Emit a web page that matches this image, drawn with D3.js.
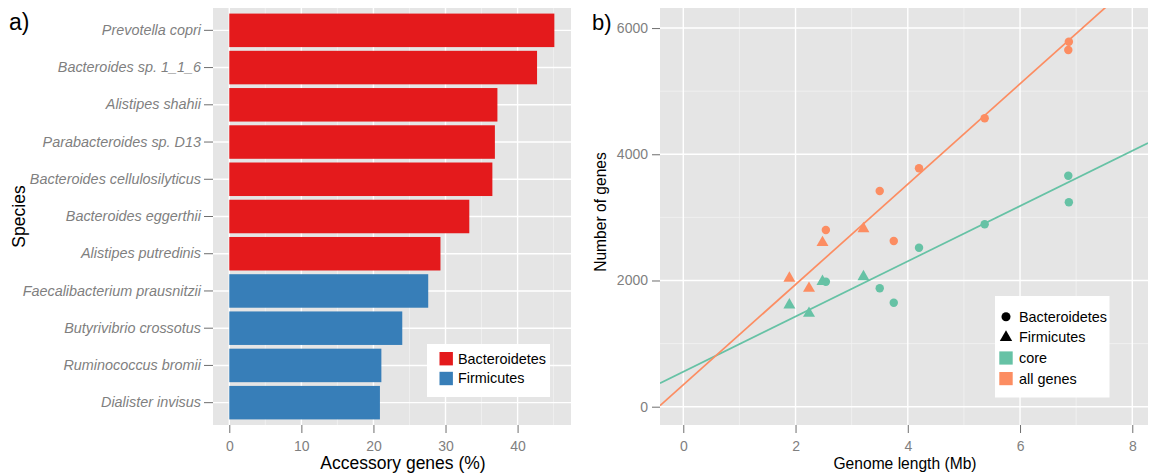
<!DOCTYPE html>
<html>
<head>
<meta charset="utf-8">
<script src="https://cdn.jsdelivr.net/npm/d3@7"></script>
<style>
  html, body { margin: 0; padding: 0; background: #fff; }
  svg { display: block; font-family: "Liberation Sans", Arial, sans-serif; }
</style>
</head>
<body>
<svg id="chart" width="1151" height="474"></svg>
<script>
// ---- Panel a: accessory genome share per species ----
const species = [
  "Prevotella copri", "Bacteroides sp. 1_1_6", "Alistipes shahii",
  "Parabacteroides sp. D13", "Bacteroides cellulosilyticus", "Bacteroides eggerthii",
  "Alistipes putredinis", "Faecalibacterium prausnitzii", "Butyrivibrio crossotus",
  "Ruminococcus bromii", "Dialister invisus"
];
const accessoryPct = [45.1, 42.7, 37.2, 36.85, 36.5, 33.3, 29.3, 27.6, 24.0, 21.1, 20.9];
const speciesPhylum = ["Bacteroidetes", "Bacteroidetes", "Bacteroidetes", "Bacteroidetes",
  "Bacteroidetes", "Bacteroidetes", "Bacteroidetes", "Firmicutes", "Firmicutes",
  "Firmicutes", "Firmicutes"];
const pctTicks = [0, 10, 20, 30, 40];
const pctMinor = [5, 15, 25, 35, 45];

// ---- Panel b: gene counts against genome length ----
const genomeMb  = [6.87, 6.86, 5.37, 4.20, 3.50, 3.75, 2.54, 1.89, 2.24, 2.48, 3.21];
const allGenes  = [5784, 5653, 4570, 3778, 3418, 2626, 2800, 2035, 1876, 2600, 2821];
const coreGenes = [3239, 3661, 2890, 2520, 1876, 1648, 1981, 1612, 1480, 1985, 2060];
const genomePhylum = ["Bacteroidetes", "Bacteroidetes", "Bacteroidetes", "Bacteroidetes",
  "Bacteroidetes", "Bacteroidetes", "Bacteroidetes", "Firmicutes", "Firmicutes",
  "Firmicutes", "Firmicutes"];
// fitted lines: [intercept, slope]
const allFit  = [346, 795];
const coreFit = [553, 438];
const mbTicks = [0, 2, 4, 6, 8];
const mbMinor = [1, 3, 5, 7];
const geneTicks = [0, 2000, 4000, 6000];
const geneMinor = [1000, 3000, 5000];

const phylumColor = { Bacteroidetes: "#E41A1C", Firmicutes: "#377EB8" };
const setColor = { core: "#66C2A5", "all genes": "#FC8D62" };

const svg = d3.select("#chart");
const tickText = "#7f7f7f";
const tickLine = "#6e6e6e";

function styleAxis(g, size) {
  g.select(".domain").remove();
  g.selectAll(".tick line").attr("stroke", tickLine).attr("stroke-width", 1);
  g.selectAll(".tick text").attr("fill", tickText).style("font-size", (size || 14) + "px");
}

// ================= Panel a =================
const A = { left: 213, right: 571, top: 8, bottom: 425 };
const xA = d3.scaleLinear().domain([-2.26, 47.41]).range([A.left, A.right]);
const yA = d3.scaleBand().domain(species).range([A.top, A.bottom])
  .paddingInner(0.1).paddingOuter(0.15);

const gA = svg.append("g");
gA.append("rect").attr("x", A.left).attr("y", A.top)
  .attr("width", A.right - A.left).attr("height", A.bottom - A.top).attr("fill", "#e5e5e5");
gA.selectAll(".minor").data(pctMinor).join("line")
  .attr("x1", d => xA(d)).attr("x2", d => xA(d)).attr("y1", A.top).attr("y2", A.bottom)
  .attr("stroke", "#f2f2f2").attr("stroke-width", 0.8);
gA.selectAll(".majorx").data(pctTicks).join("line")
  .attr("x1", d => xA(d)).attr("x2", d => xA(d)).attr("y1", A.top).attr("y2", A.bottom)
  .attr("stroke", "#fff").attr("stroke-width", 1.4);
gA.selectAll(".majory").data(species).join("line")
  .attr("x1", A.left).attr("x2", A.right)
  .attr("y1", d => yA(d) + yA.bandwidth() / 2).attr("y2", d => yA(d) + yA.bandwidth() / 2)
  .attr("stroke", "#fff").attr("stroke-width", 1.4);

gA.selectAll(".bar").data(species).join("rect")
  .attr("x", xA(0)).attr("y", d => yA(d))
  .attr("width", (d, i) => xA(accessoryPct[i]) - xA(0))
  .attr("height", yA.bandwidth())
  .attr("fill", (d, i) => phylumColor[speciesPhylum[i]]);

const axA_x = svg.append("g").attr("transform", `translate(0,${A.bottom})`)
  .call(d3.axisBottom(xA).tickValues(pctTicks).tickSize(8).tickPadding(8.5));
styleAxis(axA_x);
const axA_y = svg.append("g").attr("transform", `translate(${A.left},0)`)
  .call(d3.axisLeft(yA).tickSize(9).tickPadding(3));
styleAxis(axA_y, 14.4);
axA_y.selectAll(".tick text").style("font-style", "italic");

svg.append("text").attr("x", 403).attr("y", 469)
  .attr("text-anchor", "middle").style("font-size", "17.5px").attr("fill", "#000")
  .text("Accessory genes (%)");
svg.append("text").attr("transform", `translate(24.5,${(A.top + A.bottom) / 2}) rotate(-90)`)
  .attr("text-anchor", "middle").style("font-size", "17.5px").attr("fill", "#000")
  .text("Species");
svg.append("text").attr("x", 9).attr("y", 30).style("font-size", "23px").text("a)");

// legend a
const legA = svg.append("g");
legA.append("rect").attr("x", 427).attr("y", 344).attr("width", 123).attr("height", 53).attr("fill", "#fff");
["Bacteroidetes", "Firmicutes"].forEach((p, i) => {
  legA.append("rect").attr("x", 439.5).attr("y", 352 + i * 19.8)
    .attr("width", 13.4).attr("height", 13.4).attr("fill", phylumColor[p]);
  legA.append("text").attr("x", 458).attr("y", 363.6 + i * 19.8)
    .style("font-size", "14.4px").attr("fill", "#000").text(p);
});

// ================= Panel b =================
const B = { left: 660, right: 1148, top: 8, bottom: 425 };
const xB = d3.scaleLinear().domain([-0.415, 8.28]).range([B.left, B.right]);
const yB = d3.scaleLinear().domain([-290, 6318]).range([B.bottom, B.top]);

const gB = svg.append("g");
gB.append("rect").attr("x", B.left).attr("y", B.top)
  .attr("width", B.right - B.left).attr("height", B.bottom - B.top).attr("fill", "#e5e5e5");
svg.append("clipPath").attr("id", "clipB").append("rect")
  .attr("x", B.left).attr("y", B.top).attr("width", B.right - B.left).attr("height", B.bottom - B.top);

gB.selectAll(".mx").data(mbMinor).join("line")
  .attr("x1", d => xB(d)).attr("x2", d => xB(d)).attr("y1", B.top).attr("y2", B.bottom)
  .attr("stroke", "#f2f2f2").attr("stroke-width", 0.8);
gB.selectAll(".my").data(geneMinor).join("line")
  .attr("x1", B.left).attr("x2", B.right).attr("y1", d => yB(d)).attr("y2", d => yB(d))
  .attr("stroke", "#f2f2f2").attr("stroke-width", 0.8);
gB.selectAll(".Mx").data(mbTicks).join("line")
  .attr("x1", d => xB(d)).attr("x2", d => xB(d)).attr("y1", B.top).attr("y2", B.bottom)
  .attr("stroke", "#fff").attr("stroke-width", 1.4);
gB.selectAll(".My").data(geneTicks).join("line")
  .attr("x1", B.left).attr("x2", B.right).attr("y1", d => yB(d)).attr("y2", d => yB(d))
  .attr("stroke", "#fff").attr("stroke-width", 1.4);

// regression lines across the full range
const plot = gB.append("g").attr("clip-path", "url(#clipB)");
const [x0, x1] = xB.domain();
[[coreFit, setColor.core], [allFit, setColor["all genes"]]].forEach(([f, c]) => {
  plot.append("line")
    .attr("x1", xB(x0)).attr("y1", yB(f[0] + f[1] * x0))
    .attr("x2", xB(x1)).attr("y2", yB(f[0] + f[1] * x1))
    .attr("stroke", c).attr("stroke-width", 1.7);
});

const circleSym = d3.symbol().type(d3.symbolCircle).size(56);
const triSym = d3.symbol().type(d3.symbolTriangle).size(62);
const pts = [];
genomeMb.forEach((g, i) => {
  pts.push({ x: g, y: coreGenes[i], set: "core", phylum: genomePhylum[i] });
  pts.push({ x: g, y: allGenes[i], set: "all genes", phylum: genomePhylum[i] });
});
plot.selectAll(".pt").data(pts).join("path")
  .attr("transform", d => `translate(${xB(d.x)},${yB(d.y)})`)
  .attr("d", d => d.phylum === "Bacteroidetes" ? circleSym() : triSym())
  .attr("fill", d => setColor[d.set]);

const axB_x = svg.append("g").attr("transform", `translate(0,${B.bottom})`)
  .call(d3.axisBottom(xB).tickValues(mbTicks).tickSize(8).tickPadding(8.5));
styleAxis(axB_x);
const axB_y = svg.append("g").attr("transform", `translate(${B.left},0)`)
  .call(d3.axisLeft(yB).tickValues(geneTicks).tickFormat(d3.format("d")).tickSize(8).tickPadding(4));
styleAxis(axB_y);

svg.append("text").attr("x", 905).attr("y", 469)
  .attr("text-anchor", "middle").style("font-size", "15.6px").attr("fill", "#000")
  .text("Genome length (Mb)");
svg.append("text").attr("transform", `translate(606,212) rotate(-90)`)
  .attr("text-anchor", "middle").style("font-size", "15.6px").attr("fill", "#000")
  .text("Number of genes");
svg.append("text").attr("x", 592).attr("y", 30).style("font-size", "22px").text("b)");

// legend b
const legB = svg.append("g");
legB.append("rect").attr("x", 995).attr("y", 296).attr("width", 114.5).attr("height", 101.5).attr("fill", "#fff");
const legItems = [
  { label: "Bacteroidetes", kind: "circle" },
  { label: "Firmicutes", kind: "tri" },
  { label: "core", kind: "sq", color: setColor.core },
  { label: "all genes", kind: "sq", color: setColor["all genes"] }
];
legItems.forEach((it, i) => {
  const cy = 316.8 + i * 20.6;
  if (it.kind === "circle") {
    legB.append("path").attr("transform", `translate(1006,${cy})`)
      .attr("d", d3.symbol().type(d3.symbolCircle).size(64)()).attr("fill", "#000");
  } else if (it.kind === "tri") {
    legB.append("path").attr("transform", `translate(1006,${cy})`)
      .attr("d", d3.symbol().type(d3.symbolTriangle).size(66)()).attr("fill", "#000");
  } else {
    legB.append("rect").attr("x", 999.3).attr("y", cy - 6.6)
      .attr("width", 13.4).attr("height", 13.2).attr("fill", it.color);
  }
  legB.append("text").attr("x", 1019).attr("y", cy + 5)
    .style("font-size", "14.4px").attr("fill", "#000").text(it.label);
});
</script>
</body>
</html>
